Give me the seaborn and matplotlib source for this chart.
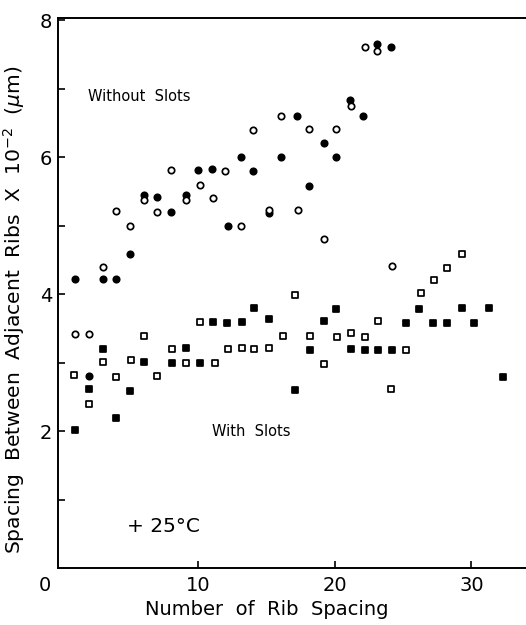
import matplotlib
matplotlib.use('Agg')
import pandas as pd
import seaborn as sns
import matplotlib.pyplot as plt

# Without slots - filled / open circles
circ_fill_x = [1, 2, 3, 4, 5, 6, 7, 8, 9.1, 10, 11, 12.2, 13.1, 14, 15.2, 16.1,
               17.2, 18.1, 19.2, 20.1, 21.1, 22.1, 23.1, 24.1]
circ_fill_y = [4.22, 2.81, 4.22, 4.22, 4.58, 5.45, 5.41, 5.2, 5.45, 5.81, 5.83, 5.0,
               6.0, 5.8, 5.18, 6.0, 6.6, 5.58, 6.21, 6.0, 6.84, 6.6, 7.65, 7.61]
circ_open_x = [1, 2, 3, 4, 5, 6, 7, 8, 9.1, 10.1, 11.1, 12, 13.1, 14, 15.2, 16.1,
               17.3, 18.1, 19.2, 20.1, 21.2, 22.2, 23.1, 24.2]
circ_open_y = [3.41, 3.41, 4.40, 5.21, 4.99, 5.37, 5.2, 5.81, 5.37, 5.59, 5.40, 5.80,
               5.0, 6.39, 5.22, 6.6, 5.22, 6.41, 4.80, 6.41, 6.74, 7.61, 7.55, 4.41]

# With slots - filled / open squares
sq_fill_x = [1, 2, 3, 4, 5, 6, 8.1, 9.1, 10.1, 11.1, 12.1, 13.2, 14.1, 15.2, 17.1,
             18.2, 19.2, 20.1, 21.2, 22.2, 23.2, 24.2, 25.2, 26.2, 27.2, 28.2, 29.3,
             30.2, 31.3, 32.3]
sq_fill_y = [2.01, 2.61, 3.2, 2.19, 2.59, 3.01, 2.99, 3.21, 3.0, 3.59, 3.57, 3.59,
             3.79, 3.63, 2.60, 3.18, 3.61, 3.78, 3.2, 3.18, 3.18, 3.18, 3.58, 3.78,
             3.58, 3.58, 3.79, 3.58, 3.80, 2.79]
sq_open_x = [0.9, 2, 3, 4, 5.1, 6, 7, 8.1, 9.1, 10.1, 11.2, 12.2, 13.2, 14.1, 15.2,
             16.2, 17.1, 18.2, 19.2, 20.2, 21.2, 22.2, 23.2, 24.1, 25.2, 26.3, 27.3,
             28.2, 29.3]
sq_open_y = [2.82, 2.39, 3.01, 2.79, 3.04, 3.38, 2.81, 3.2, 3.0, 3.59, 3.0, 3.2, 3.21,
             3.2, 3.21, 3.39, 3.99, 3.39, 2.98, 3.37, 3.43, 3.37, 3.6, 2.61, 3.18,
             4.01, 4.20, 4.38, 4.59]

sns.set_style("white")
plt.rcParams['font.family'] = ['DejaVu Sans']
plt.rcParams['text.color'] = 'black'
plt.rcParams['axes.labelcolor'] = 'black'

fig = plt.figure(figsize=(5.26, 6.25), dpi=100)
ax = fig.add_axes([58/526, 1 - 568/625, 1 - 58/526, (568 - 18)/625])

series = [
    (circ_fill_x, circ_fill_y, 'o', 'black'),
    (circ_open_x, circ_open_y, 'o', 'white'),
    (sq_fill_x, sq_fill_y, 's', 'black'),
    (sq_open_x, sq_open_y, 's', 'white'),
]
for xs, ys, mk, fc in series:
    df = pd.DataFrame({'x': xs, 'y': ys})
    sns.scatterplot(data=df, x='x', y='y', marker=mk, s=21, color=fc,
                    edgecolor='black', linewidth=1.25, ax=ax, zorder=3)

ax.set_xlim(-0.26, 34.0)
ax.set_ylim(0, 8.03)
ax.set_xticks([10, 20, 30])
ax.set_xticklabels(['10', '20', '30'])
ax.set_yticks(range(1, 9))
ax.set_yticklabels(['', '2', '', '4', '', '6', '', '8'])
ax.tick_params(direction='in', length=5, width=1.2, labelsize=14, pad=6,
               left=True, bottom=True, colors='black')
ax.tick_params(axis='y', pad=4)
ax.text(-1.2, -0.12, '0', fontsize=14, ha='center', va='top')

for s in ['left', 'bottom', 'top']:
    ax.spines[s].set_color('black')
    ax.spines[s].set_linewidth(1.4)
ax.spines['right'].set_visible(False)

ax.set_xlabel('Number  of  Rib  Spacing', fontsize=14)
ax.xaxis.set_label_coords(0.447, -0.058)
ax.set_ylabel(r'Spacing  Between  Adjacent  Ribs  X  10$^{-2}$  ($\mu$m)',
              fontsize=14.6)
ax.yaxis.set_label_coords(-0.066, 0.469)

ax.text(1.95, 6.88, 'Without  Slots', fontsize=10.5, va='center')
ax.text(13.9, 2.0, 'With  Slots', fontsize=10.5, ha='center', va='center')
ax.text(4.8, 0.61, '+ 25°C', fontsize=14.5, va='center')

fig.savefig('out.png', dpi=100)
